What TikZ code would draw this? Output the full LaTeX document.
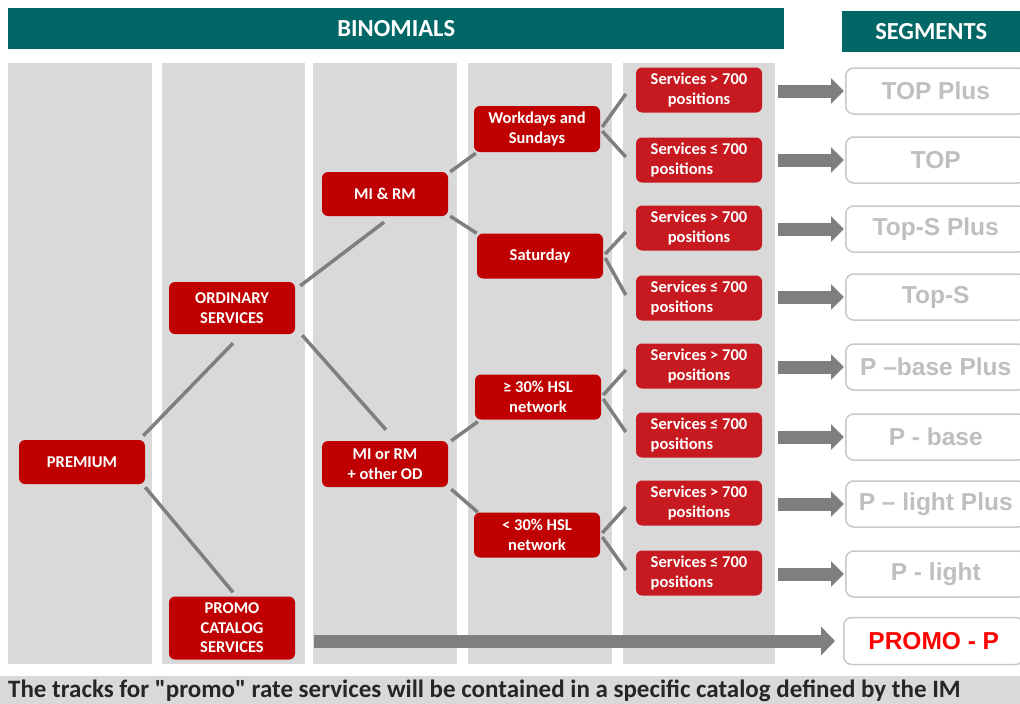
\documentclass[tikz,border=0pt]{standalone}
\usepackage{fontspec}
\setmainfont{Carlito}
\newfontfamily\segfamily{Liberation Sans}
\newfontfamily\notefamily{Carlito}[Ligatures=TeXOff]
\usetikzlibrary{arrows.meta,calc}
\definecolor{hdrteal}{RGB}{0,102,102}
\definecolor{colgray}{RGB}{217,217,217}
\definecolor{boxred}{RGB}{192,0,0}
\definecolor{boxredb}{RGB}{198,26,32}
\definecolor{linegray}{RGB}{127,127,127}
\definecolor{arrgray}{RGB}{127,127,127}
\definecolor{segline}{RGB}{200,200,200}
\definecolor{segtext}{RGB}{191,191,191}
\definecolor{promored}{RGB}{255,0,0}
\definecolor{textdark}{RGB}{38,38,38}
\newcommand\myboxfont{\fontsize{16.5}{19.5}\selectfont\bfseries}
\newcommand\mysegfont{\segfamily\fontsize{24.5}{28}\selectfont\bfseries}
\begin{document}
\begin{tikzpicture}[x=1pt,y=-1pt,
  rbox/.style={fill=boxred, rounded corners=6pt, text=white, font=\myboxfont, align=center, minimum width=126pt, minimum height=45pt, inner sep=1pt},
  sbox/.style={rbox, fill=boxredb},
  seg/.style={draw=segline, line width=1.5pt, rounded corners=8pt, fill=white, text=segtext, font=\mysegfont, minimum width=180pt, minimum height=46pt, anchor=west, inner sep=0pt},
  conn/.style={draw=linegray, line width=3.5pt},
  segarrow/.style={draw=arrgray, line width=13pt, -{Triangle[length=13pt,width=25pt]}},
  bigarrow/.style={draw=arrgray, line width=13pt, -{Triangle[length=14pt,width=28pt]}},
  hdr/.style={fill=hdrteal, text=white, font=\fontsize{24.5}{27}\selectfont\bfseries, anchor=north west, inner sep=0pt}
]
\useasboundingbox (0,0) rectangle (1020,704);
\clip (0,0) rectangle (1020,704);
% headers
\node[hdr, minimum width=776pt, minimum height=41pt] (binom) at (8,8) {BINOMIALS};
\node[hdr, minimum width=178pt, minimum height=41pt] (segs) at (842,11) {SEGMENTS};
% columns
\fill[colgray] (8,63) rectangle (152,664);
\fill[colgray] (162,63) rectangle (305,664);
\fill[colgray] (313,63) rectangle (457,664);
\fill[colgray] (468,63) rectangle (612,664);
\fill[colgray] (623,63) rectangle (775,664);
% bottom bar
\fill[colgray] (0,676) rectangle (1020,704);
\node[anchor=base west, inner sep=0pt, text=textdark, font=\notefamily\fontsize{25}{27}\selectfont\bfseries] (note) at (8,697) {The tracks for "promo" rate services will be contained in a specific catalog defined by the IM};
% level 1-3 nodes
\node[rbox, minimum height=44pt] (premium) at (82,462) {PREMIUM};
\node[rbox, minimum height=52pt] (ordinary) at (232,308) {ORDINARY\\SERVICES};
\node[rbox, minimum height=63pt] (promocat) at (232,628) {PROMO\\CATALOG\\SERVICES};
\node[rbox, minimum height=44pt] (mirm) at (385,194) {MI \& RM};
\node[rbox, minimum height=46pt] (miorrm) at (385,464) {MI or RM\\+ other OD};
\node[rbox, minimum height=46pt] (work) at (537,129) {Workdays and\\Sundays};
\node[rbox] (sat) at (540,256) {Saturday};
\node[rbox] (hslge) at (538,397) {≥ 30\% HSL\\network};
\node[rbox] (hsllt) at (537,535) {< 30\% HSL\\network};
% level 5 nodes
\node[sbox] (s1) at (699,90) {Services > 700\\positions};
\node[sbox, align=left] (s2) at (699,160) {Services ≤ 700\\positions};
\node[sbox] (s3) at (699,228) {Services > 700\\positions};
\node[sbox, align=left] (s4) at (699,298) {Services ≤ 700\\positions};
\node[sbox] (s5) at (699,366) {Services > 700\\positions};
\node[sbox, align=left] (s6) at (699,435) {Services ≤ 700\\positions};
\node[sbox] (s7) at (699,503) {Services > 700\\positions};
\node[sbox, align=left] (s8) at (699,573) {Services ≤ 700\\positions};
% segments
\node[seg] (g1) at (845,91) {TOP Plus};
\node[seg] (g2) at (845,160) {TOP};
\node[seg] (g3) at (845,229) {Top-S Plus};
\node[seg] (g4) at (845,297) {Top-S};
\node[seg] (g5) at (845,367) {P –base Plus};
\node[seg] (g6) at (845,437) {P - base};
\node[seg] (g7) at (845,504) {P – light Plus};
\node[seg] (g8) at (845,574) {P - light};
\node[seg, text=promored, minimum height=47pt] (g9) at (843,641) {PROMO - P};
% connectors
\draw[conn] ($(premium.north east)+(-2,-4)$) -- ($(ordinary.south)+(1,9)$);
\draw[conn] ($(premium.south east)+(0,3)$) -- ($(promocat.north)+(1,-4)$);
\draw[conn] ($(ordinary.north east)+(5,4)$) -- ($(mirm.south)+(-1,6)$);
\draw[conn] ($(ordinary.south east)+(7,1)$) -- ($(miorrm.north)+(1,-11)$);
\draw[conn] ($(mirm.north east)+(2,0)$) -- ($(work.south west)+(2,1)$);
\draw[conn] ($(mirm.south east)+(2,0)$) -- ($(sat.north west)+(0,0)$);
\draw[conn] ($(miorrm.north east)+(3,0)$) -- ($(hslge.south west)+(3,2)$);
\draw[conn] ($(miorrm.south east)+(3,2)$) -- ($(hsllt.north west)+(4,0)$);
\foreach \p/\u/\l in {work/s1/s2, sat/s3/s4, hslge/s5/s6, hsllt/s7/s8} {
  \draw[conn] ($(\p.east)+(2,-2)$) -- ($(\u.west)+(-10,4)$);
  \draw[conn] ($(\p.east)+(2,2)$) -- ($(\l.west)+(-10,-3)$);
}
% arrows to segments
\foreach \s/\g in {s1/g1, s2/g2, s3/g3, s4/g4, s5/g5, s6/g6, s7/g7, s8/g8} {
  \draw[segarrow] ($(\g.west -| \s.east)+(16,0)$) -- ($(\g.west)+(-1,0)$);
}
\draw[bigarrow] ($(g9.west -| promocat.east)+(19,0)$) -- ($(g9.west)+(-8,0)$);
\end{tikzpicture}
\end{document}
